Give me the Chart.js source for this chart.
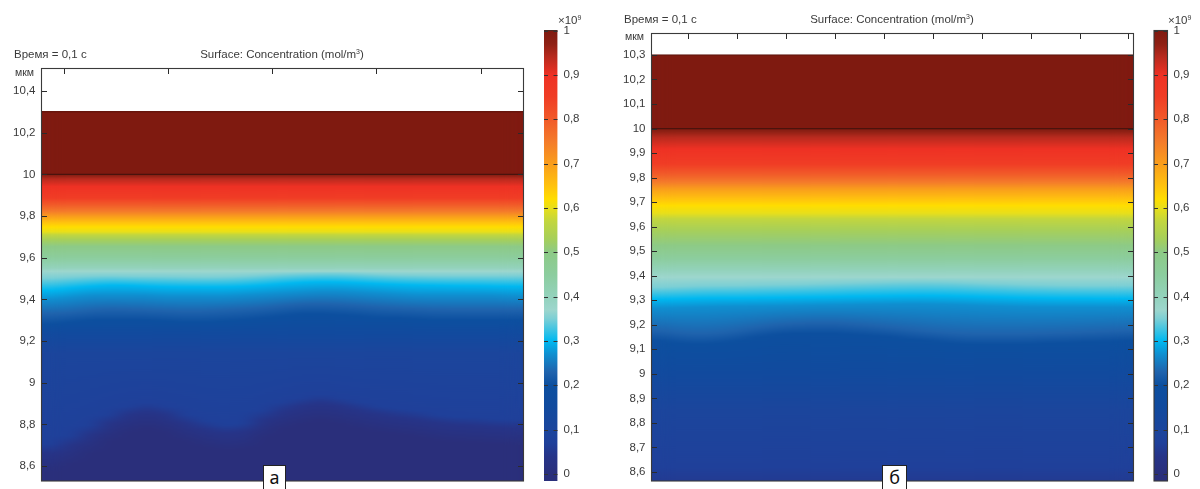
<!DOCTYPE html>
<html>
<head>
<meta charset="utf-8">
<style>
  html, body { margin: 0; background: #fff; overflow: hidden; }
  canvas { position: absolute; top: 0; }
  .txt { position: absolute; font: 11.5px "Liberation Sans", Arial, sans-serif; color: #3a3a3a; white-space: nowrap; line-height: 12px; }
  .txt sup { font-size: 7px; line-height: 0; vertical-align: 4px; }
  .center { transform: translateX(-50%); }
  .unit { font-size: 10.5px; }
  .tag { position: absolute; top: 465px; height: 30px; background: #fff; border: 1px solid #222; box-sizing: border-box; font: 18px "Noto Sans", sans-serif; color: #111; text-align: center; line-height: 22px; }
</style>
</head>
<body>
<!-- sideways blur, smooths the steps between sampled columns -->
<svg width="0" height="0" style="position:absolute">
  <filter id="sideBlur" x="-10%" y="0" width="120%" height="100%" color-interpolation-filters="sRGB">
    <feGaussianBlur stdDeviation="9 0"/>
    <feComponentTransfer><feFuncA type="linear" slope="60"/></feComponentTransfer>
  </filter>
</svg>
<canvas id="plotA" width="530" height="489" style="left:0"></canvas>
<canvas id="barA" width="60" height="489" style="left:538px"></canvas>
<canvas id="plotB" width="530" height="489" style="left:610px"></canvas>
<canvas id="barB" width="47" height="489" style="left:1147.5px"></canvas>

<div class="txt" style="left:14px;top:48px">Время = 0,1 с</div>
<div class="txt center" style="left:282px;top:48px">Surface: Concentration (mol/m<sup>3</sup>)</div>
<div class="txt unit" style="left:15px;top:66px">мкм</div>
<div class="txt" style="left:558px;top:14px">×10<sup>9</sup></div>
<div class="txt" style="left:624px;top:13px">Время = 0,1 с</div>
<div class="txt center" style="left:892px;top:13px">Surface: Concentration (mol/m<sup>3</sup>)</div>
<div class="txt unit" style="left:625px;top:30px">мкм</div>
<div class="txt" style="left:1168px;top:14px">×10<sup>9</sup></div>
<div class="tag" style="left:263px;width:23px">а</div>
<div class="tag" style="left:882px;width:25px">б</div>

<script src="https://cdn.jsdelivr.net/npm/chart.js@4"></script>
<script>
// concentration levels (x10^9) and the colour scale
const levels = [1, .97, .94, .9, .85, .8, .75, .7, .65, .62, .6, .57, .53, .5, .45, .4, .37, .35, .3, .27, .23, .2, .15, .1, .07, .04, 0];
const levelColors = ["#7f1a10", "#8e2014", "#b82a1e", "#ee3124", "#f03d25", "#f15a29", "#f47b2a", "#f99d1c", "#ffc20e", "#ffdd00", "#e8df1a", "#c2d63e", "#a6cf5a", "#8dca86", "#8ccd9e", "#93d2bc", "#9dd6cd", "#7ccfd5", "#00b8f0", "#0f8fd0", "#1f63ad", "#0c4f9f", "#114a9e", "#1b459c", "#1f409a", "#263488", "#2a2f7b"];

// sampled columns across the film width
const columns = [0.5, 1.5, 2.5, 3.5, 4.5, 5.5, 6.5, 7.5, 8.5, 9.5, 10.5, 11.5, 12.5, 13.5, 14.5, 15.5, 16.5, 17.5, 18.5, 19.5, 20.5, 21.5, 22.5, 23.5, 24.5];
const filmTop = 10.3;
const interfaceY = 10;

// panel a: wavy contours, um per column
const wave35A = [9.502, 9.507, 9.511, 9.513, 9.511, 9.510, 9.510, 9.508, 9.507, 9.508, 9.511, 9.516, 9.521, 9.524, 9.526, 9.526, 9.523, 9.519, 9.516, 9.515, 9.513, 9.513, 9.513, 9.513, 9.513];
const wave30A = [9.443, 9.454, 9.462, 9.468, 9.467, 9.463, 9.460, 9.459, 9.459, 9.459, 9.462, 9.468, 9.475, 9.481, 9.484, 9.483, 9.479, 9.475, 9.471, 9.468, 9.467, 9.465, 9.465, 9.463, 9.462];
const wave27A = [9.40, 9.41, 9.42, 9.42, 9.42, 9.42, 9.415, 9.415, 9.415, 9.415, 9.42, 9.425, 9.43, 9.435, 9.44, 9.44, 9.435, 9.43, 9.425, 9.42, 9.42, 9.42, 9.42, 9.42, 9.415];
const wave23A = [9.331, 9.337, 9.347, 9.353, 9.351, 9.348, 9.345, 9.342, 9.343, 9.348, 9.353, 9.359, 9.369, 9.377, 9.379, 9.375, 9.369, 9.363, 9.358, 9.355, 9.351, 9.350, 9.350, 9.350, 9.350];
const wave20A = [9.28, 9.29, 9.30, 9.30, 9.30, 9.30, 9.295, 9.29, 9.29, 9.295, 9.30, 9.31, 9.32, 9.33, 9.33, 9.325, 9.32, 9.31, 9.31, 9.305, 9.30, 9.30, 9.30, 9.30, 9.30];
const wave07A = [8.705, 8.745, 8.795, 8.845, 8.885, 8.905, 8.885, 8.845, 8.815, 8.795, 8.805, 8.865, 8.905, 8.925, 8.945, 8.925, 8.905, 8.885, 8.875, 8.865, 8.845, 8.835, 8.835, 8.825, 8.825];
const wave04A = [8.662, 8.702, 8.750, 8.806, 8.846, 8.862, 8.846, 8.806, 8.777, 8.758, 8.766, 8.822, 8.862, 8.889, 8.902, 8.889, 8.867, 8.849, 8.833, 8.822, 8.809, 8.798, 8.793, 8.787, 8.782];
const wave00A = [8.57, 8.61, 8.66, 8.72, 8.76, 8.78, 8.76, 8.72, 8.69, 8.67, 8.68, 8.74, 8.78, 8.80, 8.82, 8.80, 8.78, 8.76, 8.75, 8.74, 8.72, 8.71, 8.71, 8.70, 8.70];
const contoursA = [10, 9.994, 9.978, 9.942, 9.886, 9.854, 9.822, 9.798, 9.769, 9.747, 9.724, 9.71, 9.686, 9.654, 9.598, 9.55, 9.535, wave35A, wave30A, wave27A, wave23A, wave20A, 9.24, 9.14, wave07A, wave04A, wave00A];
const yTicksA = [8.6, 8.8, 9, 9.2, 9.4, 9.6, 9.8, 10, 10.2, 10.4];
const xTicksA = [1.17, 6.57, 11.97, 17.37, 22.77];

// panel b
const wave35B = [9.353, 9.356, 9.359, 9.360, 9.360, 9.362, 9.363, 9.364, 9.366, 9.368, 9.370, 9.372, 9.374, 9.375, 9.375, 9.374, 9.371, 9.368, 9.366, 9.363, 9.362, 9.360, 9.360, 9.360, 9.360];
const wave30B = [9.304, 9.306, 9.308, 9.309, 9.309, 9.310, 9.311, 9.312, 9.313, 9.314, 9.316, 9.317, 9.318, 9.319, 9.319, 9.318, 9.316, 9.314, 9.312, 9.310, 9.309, 9.308, 9.308, 9.307, 9.307];
const wave27B = [9.268, 9.270, 9.272, 9.274, 9.275, 9.276, 9.277, 9.278, 9.280, 9.281, 9.282, 9.283, 9.284, 9.285, 9.284, 9.282, 9.280, 9.277, 9.275, 9.273, 9.272, 9.272, 9.272, 9.272, 9.272];
const wave23B = [9.177, 9.167, 9.163, 9.167, 9.177, 9.190, 9.200, 9.205, 9.208, 9.208, 9.203, 9.197, 9.189, 9.181, 9.173, 9.167, 9.163, 9.162, 9.162, 9.163, 9.165, 9.167, 9.170, 9.173, 9.176];
const wave20B = [9.135, 9.125, 9.12, 9.125, 9.135, 9.15, 9.16, 9.165, 9.165, 9.165, 9.16, 9.155, 9.15, 9.14, 9.135, 9.125, 9.12, 9.12, 9.12, 9.12, 9.125, 9.125, 9.13, 9.13, 9.135];
const contoursB = [10, 9.988, 9.964, 9.917, 9.855, 9.815, 9.781, 9.754, 9.713, 9.686, 9.655, 9.632, 9.584, 9.523, 9.469, 9.421, 9.394, wave35B, wave30B, wave27B, wave23B, wave20B, 9.0, 8.85, 8.62, 8.5, 8.4];
const yTicksB = [8.6, 8.7, 8.8, 8.9, 9, 9.1, 9.2, 9.3, 9.4, 9.5, 9.6, 9.7, 9.8, 9.9, 10, 10.1, 10.2, 10.3];
const xTicksB = [1.9, 4.44, 6.98, 9.51, 12.05, 14.59, 17.12, 19.66, 22.2, 24.73];

// colour bar
const barTicks = [0, .1, .2, .3, .4, .5, .6, .7, .8, .9, 1];

const comma = (v) => String(v).replace(".", ",");

// inward ticks and the axes box
const frame = {
  id: "frame",
  afterDatasetDraw(chart, args) {
    // bars are the last dataset, lines sit on top of them
    if (chart.config.type !== "bar" || !chart.options.plugins.frame.smooth || args.index !== 2) return;
    const { ctx, chartArea: a } = chart;
    const x = Math.floor(a.left), y = Math.floor(a.top);
    const w = Math.ceil(a.right) - x, h = Math.ceil(a.bottom) - y;
    ctx.save();
    ctx.beginPath();
    ctx.rect(a.left, a.top, a.right - a.left, a.bottom - a.top);
    ctx.clip();
    ctx.filter = "url(#sideBlur)";
    ctx.drawImage(chart.canvas, x, y, w, h, x, y, w, h);
    ctx.restore();
  },
  afterDatasetsDraw(chart, args, opts) {
    const { ctx, chartArea: a, scales } = chart;
    ctx.save();
    ctx.strokeStyle = opts.tickColor;
    ctx.lineWidth = 1;
    ctx.beginPath();
    for (const v of opts.yTicks) {
      const y = Math.round(scales.y.getPixelForValue(v)) + 0.5;
      ctx.moveTo(a.left, y);
      ctx.lineTo(a.left + opts.len, y);
      ctx.moveTo(a.right, y);
      ctx.lineTo(a.right - opts.len, y);
    }
    for (const v of opts.xTicks) {
      const x = Math.round(scales.x.getPixelForValue(v)) + 0.5;
      ctx.moveTo(x, a.top);
      ctx.lineTo(x, a.top + opts.len);
    }
    ctx.stroke();
    if (opts.box) {
      ctx.strokeStyle = opts.box;
      ctx.lineWidth = 1.1;
      ctx.strokeRect(a.left, a.top, a.right - a.left, a.bottom - a.top);
    } else {
      ctx.strokeStyle = "#4a2a24";
      ctx.beginPath();
      ctx.moveTo(a.left, a.top);
      ctx.lineTo(a.right, a.top);
      ctx.stroke();
    }
    ctx.restore();
  },
};

function fieldGradient(c, contours) {
  const chart = c.chart;
  const col = c.dataIndex;
  if (!chart.chartArea || col === undefined) return levelColors[0];
  const y = chart.scales.y;
  const lastC = contours[contours.length - 1];
  const last = y.getPixelForValue(lastC.length ? lastC[col] : lastC);
  const top = y.getPixelForValue(filmTop);
  const g = chart.ctx.createLinearGradient(0, top, 0, last);
  contours.forEach((h, i) => {
    const v = h.length ? h[col] : h;
    g.addColorStop((y.getPixelForValue(v) - top) / (last - top), levelColors[i]);
  });
  return g;
}

function drawPanel(id, contours, yTicks, xTicks, yMin, yMax, top) {
  new Chart(document.getElementById(id), {
    type: "bar",
    data: {
      datasets: [
        {
          type: "line",
          data: [{ x: 0, y: interfaceY }, { x: 25, y: interfaceY }],
          borderColor: "#4a130d",
          borderWidth: 1.2,
          pointRadius: 0,
          order: 0,
        },
        {
          type: "line",
          data: [{ x: 0, y: filmTop }, { x: 25, y: filmTop }],
          borderColor: "#5c140d",
          borderWidth: 1,
          pointRadius: 0,
          order: 0,
        },
        {
          data: columns.map((x) => ({ x, y: [yMin, filmTop] })),
          backgroundColor: (c) => fieldGradient(c, contours),
          borderWidth: 0,
          barPercentage: 1.04,
          categoryPercentage: 1,
          order: 1,
        },
      ],
    },
    options: {
      responsive: false,
      animation: false,
      events: [],
      layout: { padding: { top: top, bottom: 8, right: 6.5 } },
      plugins: {
        legend: { display: false },
        tooltip: { enabled: false },
        frame: { yTicks, xTicks, len: 5.5, tickColor: "#2b2b2b", box: "#3a3a3a", smooth: true },
      },
      scales: {
        x: { type: "linear", min: 0, max: 25, offset: false, display: false },
        y: {
          min: yMin,
          max: yMax,
          grid: { display: false, drawTicks: false },
          border: { display: false },
          afterBuildTicks: (s) => { s.ticks = yTicks.map((value) => ({ value })); },
          afterFit: (s) => { s.width = 41.5; s.paddingTop = 0; s.paddingBottom = 0; },
          ticks: {
            callback: comma,
            autoSkip: false,
            padding: 6,
            color: "#3a3a3a",
            font: { family: "'Liberation Sans', Arial, sans-serif", size: 11.5 },
          },
        },
      },
    },
    plugins: [frame],
  });
}

function drawColorBar(id, box, leftPad) {
  new Chart(document.getElementById(id), {
    type: "bar",
    data: {
      labels: [""],
      datasets: [
        {
          data: [[-0.0158, 1]],
          backgroundColor: (c) => {
            if (!c.chart.chartArea) return levelColors[0];
            const y = c.chart.scales.y;
            const top = y.getPixelForValue(1);
            const g = c.chart.ctx.createLinearGradient(0, top, 0, y.getPixelForValue(0));
            levels.forEach((l, i) => g.addColorStop(1 - l, levelColors[i]));
            return g;
          },
          borderWidth: 0,
          barPercentage: 1,
          categoryPercentage: 1,
        },
      ],
    },
    options: {
      responsive: false,
      animation: false,
      events: [],
      layout: { padding: { top: 30.5, bottom: 8, left: leftPad } },
      plugins: {
        legend: { display: false },
        tooltip: { enabled: false },
        frame: { yTicks: barTicks, xTicks: [], len: 4, tickColor: "#333333", box, smooth: false },
      },
      scales: {
        x: { display: false },
        y: {
          position: "right",
          min: -0.0158,
          max: 1,
          grid: { display: false, drawTicks: false },
          border: { display: false },
          afterBuildTicks: (s) => { s.ticks = barTicks.map((value) => ({ value })); },
          afterFit: (s) => { s.width = id === "barA" ? 40.5 : 27.5; s.paddingTop = 0; s.paddingBottom = 0; },
          ticks: {
            callback: comma,
            autoSkip: false,
            padding: 6,
            color: "#3a3a3a",
            font: { family: "'Liberation Sans', Arial, sans-serif", size: 11.5 },
          },
        },
      },
    },
    plugins: [frame],
  });
}

drawPanel("plotA", contoursA, yTicksA, xTicksA, 8.528, 10.508, 68.5);
drawPanel("plotB", contoursB, yTicksB, xTicksB, 8.563, 10.3875, 33.5);
drawColorBar("barA", null, 6);
drawColorBar("barB", "#3a3a3a", 6);
</script>
</body>
</html>
